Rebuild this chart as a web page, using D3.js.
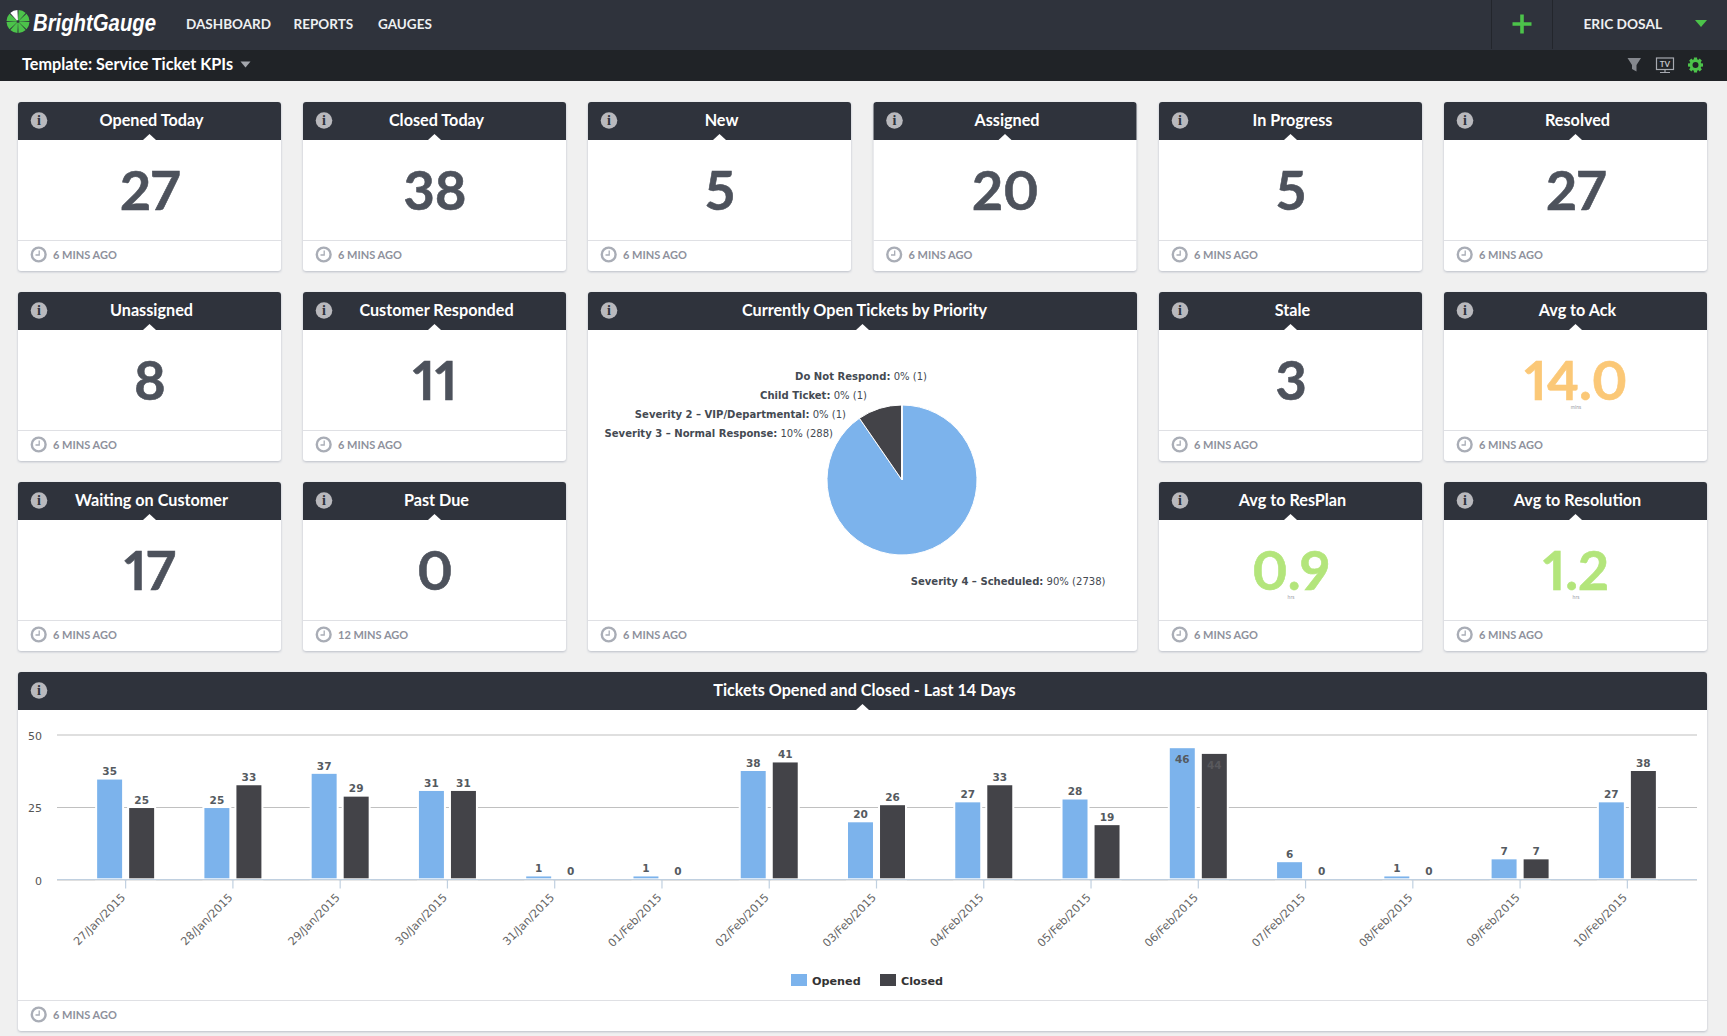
<!DOCTYPE html>
<html>
<head>
<meta charset="utf-8">
<script src="https://cdn.jsdelivr.net/npm/d3@7"></script>
<style>
  html, body { margin: 0; padding: 0; background: #f0f0f0; overflow: hidden; }
  svg { display: block; font-family: Lato, "Open Sans", sans-serif; }
  .chart-text { font-family: "DejaVu Sans", Verdana, sans-serif; }
  .axis .domain { display: none; }
  .big-value { font-variant-numeric: proportional-nums; font-feature-settings: "pnum" 1; }
</style>
</head>
<body>
<div id="app"></div>
<script>
// gauge cards
const gaugeTitles = ["Opened Today", "Closed Today", "New", "Assigned", "In Progress", "Resolved",
  "Unassigned", "Customer Responded", "Stale", "Avg to Ack",
  "Waiting on Customer", "Past Due", "Avg to ResPlan", "Avg to Resolution"];
const gaugeValues = ["27", "38", "5", "20", "5", "27", "8", "11", "3", "14.0", "17", "0", "0.9", "1.2"];
const gaugeUnits = ["", "", "", "", "", "", "", "", "", "mins", "", "", "hrs", "hrs"];
const gaugeAges = ["6 MINS AGO", "6 MINS AGO", "6 MINS AGO", "6 MINS AGO", "6 MINS AGO", "6 MINS AGO",
  "6 MINS AGO", "6 MINS AGO", "6 MINS AGO", "6 MINS AGO", "6 MINS AGO", "12 MINS AGO", "6 MINS AGO", "6 MINS AGO"];

// pie
const priorityNames = ["Severity 4 - Scheduled", "Severity 3 - Normal Response",
  "Severity 2 - VIP/Departmental", "Child Ticket", "Do Not Respond"];
const priorityCounts = [2738, 288, 1, 1, 1];

// bars
const days = ["27/Jan/2015", "28/Jan/2015", "29/Jan/2015", "30/Jan/2015", "31/Jan/2015", "01/Feb/2015",
  "02/Feb/2015", "03/Feb/2015", "04/Feb/2015", "05/Feb/2015", "06/Feb/2015", "07/Feb/2015",
  "08/Feb/2015", "09/Feb/2015", "10/Feb/2015"];
const opened = [35, 25, 37, 31, 1, 1, 38, 20, 27, 28, 46, 6, 1, 7, 27];
const closed = [25, 33, 29, 31, 0, 0, 41, 26, 33, 19, 44, 0, 0, 7, 38];
const seriesNames = ["Opened", "Closed"];
const yTicks = [0, 25, 50];

const width = 1727;
const height = 1036;
const cardW = 263;
const headH = 38;
const footH = 31;
const dark = "#2f333c";
const blue = "#7cb3ec";
const ink = "#434348";
const green = "#4cc34a";
const colX = [18, 303, 588, 873.5, 1159, 1444];
const rowY = [102, 292, 482];
// column, row of each small card
const slots = [[0,0],[1,0],[2,0],[3,0],[4,0],[5,0],[0,1],[1,1],[4,1],[5,1],[0,2],[1,2],[4,2],[5,2]];

function valueColor(i) {
  if (gaugeTitles[i] === "Avg to Ack") return "#fbc877";
  if (gaugeUnits[i] === "hrs") return "#b3e57b";
  return "#4d525c";
}

const svg = d3.select("#app").append("svg").attr("width", width).attr("height", height);

// ---- top bars
svg.append("rect").attr("width", width).attr("height", 50).attr("fill", dark);
svg.append("rect").attr("y", 50).attr("width", width).attr("height", 31).attr("fill", "#202327");

const logoArc = d3.arc().innerRadius(1.5).outerRadius(11.5);
const logo = svg.append("g").attr("transform", "translate(18,21.5)");
d3.range(8).forEach(function (i) {
  logo.append("path")
    .attr("d", logoArc({ startAngle: (i * Math.PI) / 4 + 0.05, endAngle: ((i + 1) * Math.PI) / 4 - 0.05 }))
    .attr("fill", i === 7 ? "#ffffff" : green);
});
svg.append("text").attr("x", 33).attr("y", 31).text("BrightGauge")
  .attr("font-family", "'Liberation Sans'")
  .attr("font-weight", 700).attr("font-style", "italic").attr("font-size", 24)
  .attr("textLength", 123).attr("lengthAdjust", "spacingAndGlyphs").attr("fill", "#fff");

const navItems = [["DASHBOARD", 186], ["REPORTS", 293.5], ["GAUGES", 378]];
navItems.forEach(function (d) {
  svg.append("text").attr("x", d[1]).attr("y", 29).text(d[0])
    .attr("font-size", 13.5).attr("font-weight", 700).attr("fill", "#eef0f2");
});
[1491.5, 1552.5].forEach(function (x) {
  svg.append("line").attr("x1", x).attr("x2", x).attr("y1", 0).attr("y2", 49).attr("stroke", "#23262c");
});
svg.append("path").attr("d", "M1522 14.5V33.5M1512.5 24H1531.5").attr("stroke", green).attr("stroke-width", 3.6).attr("fill", "none");
svg.append("text").attr("x", 1583.5).attr("y", 29).text("ERIC DOSAL")
  .attr("font-size", 13.7).attr("font-weight", 700).attr("fill", "#eef0f2");
svg.append("path").attr("d", "M1695 20H1707L1701 27Z").attr("fill", green);

svg.append("text").attr("x", 22).attr("y", 70).text("Template: Service Ticket KPIs")
  .attr("font-size", 16.2).attr("font-weight", 700).attr("fill", "#fff");
svg.append("path").attr("d", "M240.5 61.5H250.5L245.5 67.5Z").attr("fill", "#a4a7ad");

svg.append("path").attr("d", "M1627.5 58H1641L1636.5 65V71.5L1632 69V65Z").attr("fill", "#85888e");
svg.append("rect").attr("x", 1656.5).attr("y", 58).attr("width", 17).attr("height", 11.5).attr("fill", "none").attr("stroke", "#a6a9b0").attr("stroke-width", 1.2);
svg.append("text").attr("x", 1665).attr("y", 67).attr("text-anchor", "middle").text("TV")
  .attr("font-size", 8).attr("font-weight", 700).attr("fill", "#c0c3c9");
svg.append("path").attr("d", "M1665 70V72M1660 72.5H1670").attr("stroke", "#a6a9b0").attr("stroke-width", 1.2);
const gear = svg.append("g").attr("transform", "translate(1695.5,65)");
gear.append("circle").attr("r", 4.5).attr("fill", "none").attr("stroke", green).attr("stroke-width", 3);
d3.range(8).forEach(function (i) {
  gear.append("rect").attr("x", -1.6).attr("y", -7.5).attr("width", 3.2).attr("height", 3)
    .attr("fill", green).attr("transform", "rotate(" + i * 45 + ")");
});

// ---- card frame shared by gauges, pie and bars
function drawCard(x, y, w, h, title, age) {
  const g = svg.append("g").attr("transform", "translate(" + x + "," + y + ")");
  g.append("rect").attr("width", w).attr("height", h).attr("rx", 3).attr("fill", "#fff")
    .style("filter", "drop-shadow(0 1.5px 1px rgba(120,128,150,0.45))");
  g.append("path")
    .attr("d", "M0 " + headH + "V3Q0 0 3 0H" + (w - 3) + "Q" + w + " 0 " + w + " 3V" + headH + "Z")
    .attr("fill", dark);
  g.append("path")
    .attr("d", "M" + (w / 2 - 6.5) + " " + headH + "L" + w / 2 + " " + (headH - 6) + "L" + (w / 2 + 6.5) + " " + headH + "Z")
    .attr("fill", "#fff");
  g.append("text").attr("x", w / 2 + 2).attr("y", 24).attr("text-anchor", "middle").text(title)
    .attr("font-size", 16.2).attr("font-weight", 700).attr("fill", "#fff");

  // info icon
  g.append("circle").attr("cx", 21).attr("cy", 18.5).attr("r", 8.3).attr("fill", "#b9b9bd");
  g.append("text").attr("x", 21).attr("y", 23.3).attr("text-anchor", "middle").text("i")
    .attr("font-family", "'Liberation Serif', serif").attr("font-weight", 700).attr("font-size", 14).attr("fill", dark);

  // footer
  g.append("line").attr("x1", 0).attr("x2", w).attr("y1", h - footH + 0.5).attr("y2", h - footH + 0.5).attr("stroke", "#dfe0e4").attr("stroke-width", 1);
  g.append("circle").attr("cx", 20.7).attr("cy", h - 16.5).attr("r", 6.9).attr("fill", "none").attr("stroke", "#a9adb6").attr("stroke-width", 2.4);
  g.append("path").attr("d", "M21.2 " + (h - 20.5) + "V" + (h - 16) + "H17.5").attr("fill", "none").attr("stroke", "#a9adb6").attr("stroke-width", 1.3);
  g.append("text").attr("x", 35).attr("y", h - 12.2).text(age)
    .attr("font-size", 11).attr("font-weight", 700).attr("fill", "#8e919c");
  return g;
}

// ---- gauges
gaugeTitles.forEach(function (title, i) {
  const c = slots[i];
  const g = drawCard(colX[c[0]], rowY[c[1]], cardW, 169, title, gaugeAges[i]);
  g.append("text").attr("class", "big-value").attr("x", cardW / 2 + 0.5).attr("y", 108).attr("text-anchor", "middle").text(gaugeValues[i])
    .attr("font-size", 54).attr("font-weight", 700).attr("fill", valueColor(i))
    .attr("stroke", valueColor(i)).attr("stroke-width", 0.6);
  if (gaugeUnits[i]) {
    g.append("text").attr("x", cardW / 2 + 0.5).attr("y", 117).attr("text-anchor", "middle").text(gaugeUnits[i])
      .attr("font-size", 5).attr("fill", "#9a9da6");
  }
});

// ---- pie
const pieCard = drawCard(588, 292, 549, 359, "Currently Open Tickets by Priority", "6 MINS AGO");
const pieR = 75;
const pieG = pieCard.append("g").attr("transform", "translate(314,188)");
const pieSlices = d3.pie().sort(null)(priorityCounts);
const pieArc = d3.arc().innerRadius(0).outerRadius(pieR);
const pieColors = d3.scaleOrdinal().domain(priorityNames).range([blue, ink, "#90ed7d", "#f7a35c", "#8085e9"]);
pieG.selectAll("path").data(pieSlices).join("path")
  .attr("d", pieArc)
  .attr("fill", function (d, i) { return pieColors(priorityNames[i]); })
  .attr("stroke", "#fff").attr("stroke-width", 1);

// label anchors, relative to the pie centre
const pieAnchors = [[203.5, 105], [-69, -43], [-56, -62], [-35, -81], [25, -100]];
const pieTotal = d3.sum(priorityCounts);
priorityCounts.forEach(function (count, i) {
  const label = pieG.append("text").attr("class", "chart-text")
    .attr("x", pieAnchors[i][0]).attr("y", pieAnchors[i][1]).attr("text-anchor", "end")
    .attr("font-size", 10.05).attr("fill", "#444a52");
  label.append("tspan").attr("font-weight", 700).text(priorityNames[i].replace(" - ", " \u2013 ") + ":");
  label.append("tspan").text(" " + Math.round((count / pieTotal) * 100) + "% (" + count + ")");
});

// ---- bars
drawCard(18, 672, 1689, 359, "Tickets Opened and Closed - Last 14 Days", "6 MINS AGO");
const plotLeft = 57;
const plotRight = 1697;
const x = d3.scaleBand().domain(days).range([72, 1681]);
const xInner = d3.scaleBand().domain(seriesNames).range([-28.5, 28.5]).paddingInner(0.22);
const y = d3.scaleLinear().domain([0, 50]).range([879.5, 734.5]);
// the reference's bars sit a little under its gridlines
const yBar = d3.scaleLinear().domain([0, 50]).range([879.3, 736.8]);
const series = [opened, closed];
const seriesColor = d3.scaleOrdinal().domain(seriesNames).range([blue, ink]);

const grid = svg.append("g").attr("class", "axis chart-text").attr("transform", "translate(" + plotLeft + ",0)")
  .call(d3.axisLeft(y).tickValues(yTicks).tickSize(-(plotRight - plotLeft)).tickPadding(15));
grid.selectAll("line").attr("stroke", "#c0c0c0").attr("stroke-width", 1.2);
grid.selectAll("text").attr("font-size", 11).attr("fill", "#555").attr("dy", "0.45em")
  .style("font-family", "'DejaVu Sans'");

const groups = svg.selectAll(".day").data(days).join("g").attr("class", "day")
  .attr("transform", function (d) { return "translate(" + (x(d) + x.bandwidth() / 2) + ",0)"; });

seriesNames.forEach(function (name, s) {
  groups.append("rect")
    .attr("x", xInner(name) - 1)
    .attr("width", xInner.bandwidth() + 2)
    .attr("y", function (d, i) { return yBar(series[s][i]) - 1; })
    .attr("height", function (d, i) { return series[s][i] > 0 ? yBar(0) - yBar(series[s][i]) + 1 : 0; })
    .attr("fill", seriesColor(name))
    .attr("stroke", "#fff").attr("stroke-width", 2);
  groups.append("text").attr("class", "chart-text")
    .attr("x", xInner(name) + xInner.bandwidth() / 2)
    .attr("y", function (d, i) {
      const top = yBar(series[s][i]);
      return top < 760 ? top + 15 : top - 4.2;
    })
    .attr("text-anchor", "middle")
    .attr("font-size", 10.5).attr("font-weight", 700)
    .attr("fill", function (d, i) { return yBar(series[s][i]) < 760 && s === 1 ? "#58585c" : "#555a60"; })
    .text(function (d, i) { return series[s][i]; });
});

svg.append("line").attr("x1", plotLeft).attr("x2", plotRight).attr("y1", y(0)).attr("y2", y(0))
  .attr("stroke", "#c0d0e0").attr("stroke-width", 1.2);

const xAxis = svg.append("g").attr("class", "axis chart-text").attr("transform", "translate(0," + y(0) + ")")
  .call(d3.axisBottom(x).tickSize(9).tickPadding(3));
xAxis.selectAll("line").attr("stroke", "#c0d0e0").attr("stroke-width", 1.2);
xAxis.selectAll("text")
  .attr("text-anchor", "end").attr("x", -13).attr("y", 10).attr("dy", "0.32em")
  .attr("transform", "rotate(-45)")
  .attr("font-size", 11.2).attr("fill", "#666")
  .style("font-family", "'DejaVu Sans'");

// legend
const legendX = d3.scaleOrdinal().domain(seriesNames).range([791, 880]);
seriesNames.forEach(function (name) {
  svg.append("rect").attr("x", legendX(name)).attr("y", 974).attr("width", 16).attr("height", 12).attr("fill", seriesColor(name));
  svg.append("text").attr("class", "chart-text").attr("x", legendX(name) + 21).attr("y", 984.5).text(name)
    .attr("font-size", 11.2).attr("font-weight", 700).attr("fill", "#333");
});
</script>
</body>
</html>
